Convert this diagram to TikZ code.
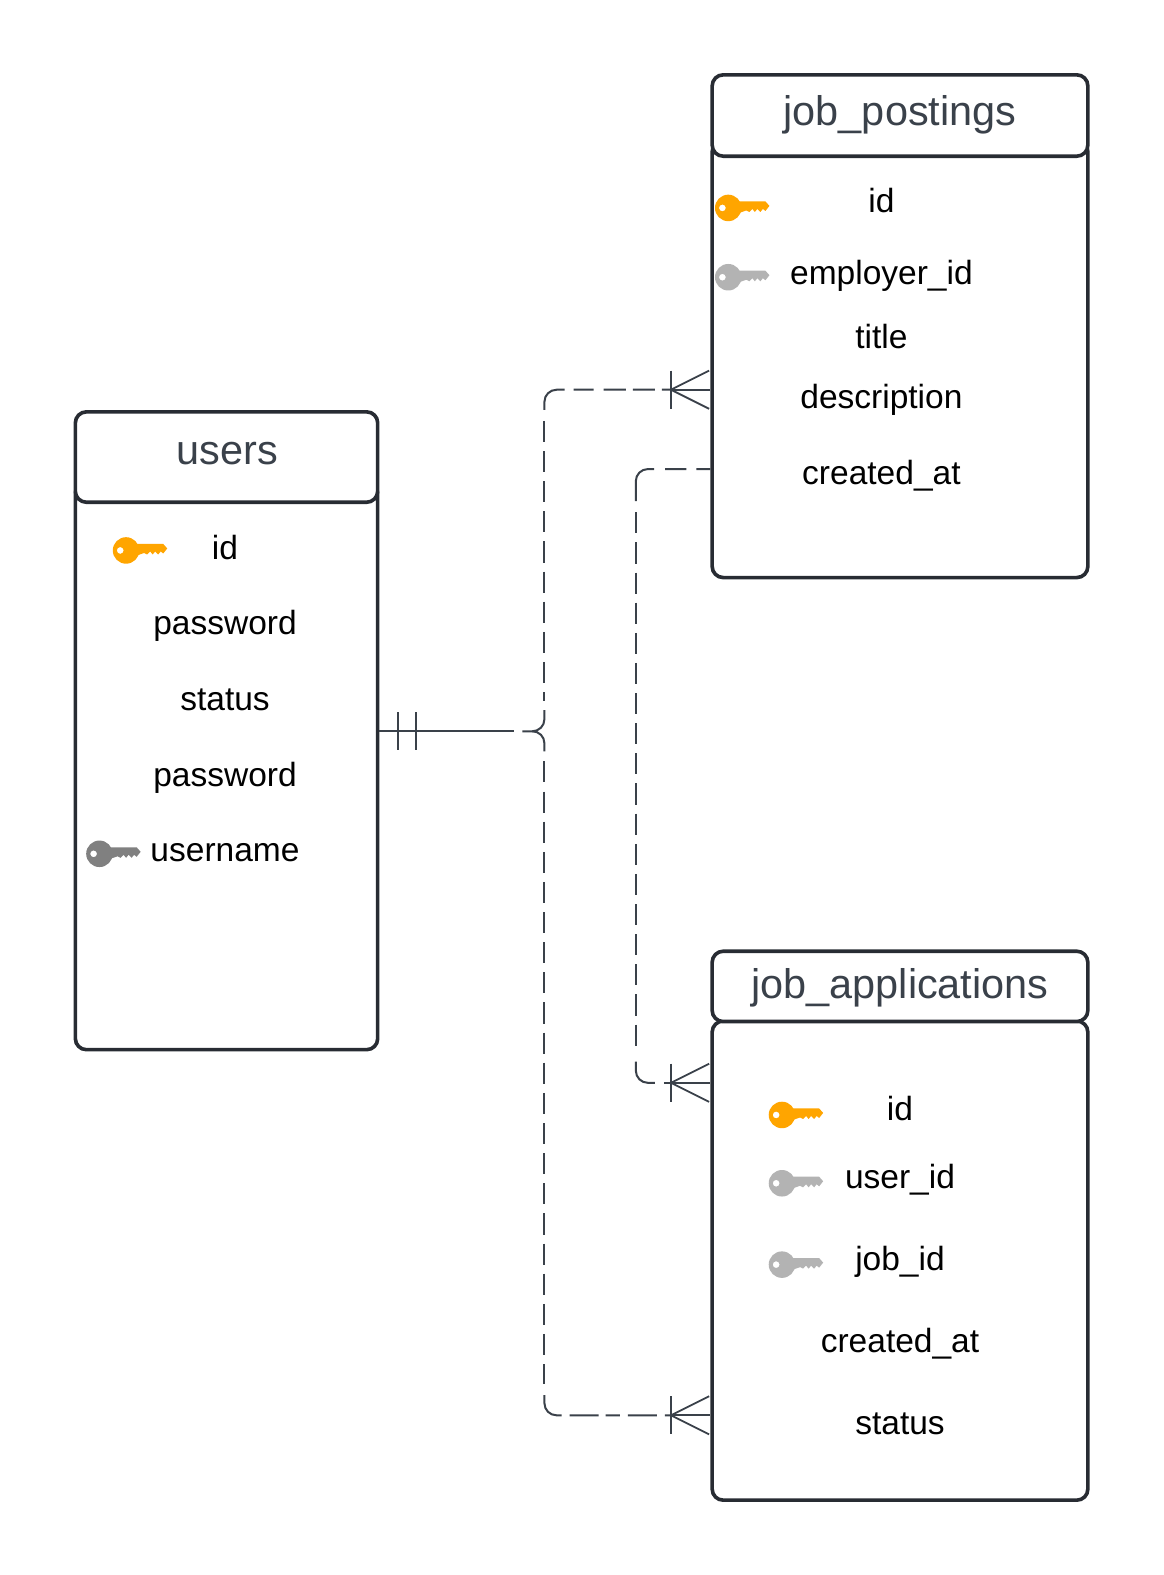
\documentclass[tikz,border=0pt]{standalone}
\usepackage{fontspec}
\setmainfont{Liberation Sans}
\definecolor{boxline}{HTML}{282C33}
\definecolor{conline}{HTML}{3A414A}
\definecolor{titletext}{HTML}{3A414A}
\definecolor{keyorange}{HTML}{FFA500}
\definecolor{keylight}{HTML}{B3B3B3}
\definecolor{keydark}{HTML}{808080}
\begin{document}
\begin{tikzpicture}[x=1bp,y=-1bp]
\tikzset{
  tablebox/.style={draw=boxline, line width=3.6bp, rounded corners=11bp, fill=white, inner sep=0pt, minimum width=#1},
  tabletitle/.style={text=titletext, font=\fontsize{41.4}{41.4}\selectfont, inner sep=0pt},
  champ/.style={text=black, font=\fontsize{33.5}{33.5}\selectfont, inner sep=0pt, anchor=base},
  lien/.style={draw=conline, line width=2bp},
  tirets/.style={lien, dash pattern=on 21bp off 9bp},
  coude/.style={lien, rounded corners=12bp},
  patte/.style={lien, line width=1.8bp},
  cle/.pic={
    \fill[even odd rule, pic actions] (0,0) circle (13.2bp) (-5.8,0) circle (3.4bp);
    \fill[pic actions] (8,-6.5) -- (37,-6.5) -- (41,-2) -- (37,3) -- (34.5,1) -- (32,4) -- (29,1) -- (26.5,4) -- (24,1) -- (21,4) -- (18,2.5) -- (8,6) -- cycle;
  }
}
\useasboundingbox (0,0) rectangle (1158,1568);
% job_postings
\node[tablebox=374bp, minimum height=435bp] (postbody) at (896,357.5) {};
\node[tablebox=374bp, minimum height=81bp] (posthead) at (896,115) {};
\node[tabletitle, anchor=base] (posttitle) at (896,125) {job\_postings};
\node[champ] (postid) at (877.5,212) {id};
\node[champ] (postemp) at (877.5,283) {employer\_id};
\node[champ] (posttit) at (877.5,347) {title};
\node[champ] (postdesc) at (877.5,407) {description};
\node[champ] (postcre) at (877.5,482) {created\_at};
\pic[fill=keyorange] at (725,207) {cle};
\pic[fill=keylight] at (725,276) {cle};
% users
\node[tablebox=301bp, minimum height=565bp] (userbody) at (225.5,762.5) {};
\node[tablebox=301bp, minimum height=90bp] (userhead) at (225.5,455) {};
\node[tabletitle, anchor=base] (usertitle) at (226.5,462) {users};
\node[champ] (userid) at (224,557) {id};
\node[champ] (userpass) at (224,632) {password};
\node[champ] (userstat) at (224,707) {status};
\node[champ] (userpassb) at (224,783) {password};
\node[champ] (username) at (224,858) {username};
\pic[fill=keyorange] at (125.5,548) {cle};
\pic[fill=keydark] at (99,850) {cle};
% job_applications
\node[tablebox=374bp, minimum height=477bp] (applibody) at (896,1255) {};
\node[tablebox=374bp, minimum height=70bp] (applihead) at (896,982) {};
\node[tabletitle, anchor=base] (applititle) at (896,994) {job\_applications};
\node[champ] (appliid) at (896,1116) {id};
\node[champ] (appliuser) at (896,1183) {user\_id};
\node[champ] (applijob) at (896,1265) {job\_id};
\node[champ] (applicre) at (896,1346.5) {created\_at};
\node[champ] (applistat) at (896,1428) {status};
\pic[fill=keyorange] at (778.5,1110) {cle};
\pic[fill=keylight] at (778.5,1178) {cle};
\pic[fill=keylight] at (778.5,1259) {cle};
% liens
\draw[lien] (userbody.east |- 0,728) -- (512,728);
\draw[patte] (396,709) -- (396,747);
\draw[lien] (414,709) -- (414,747);
\draw[lien] (520,728) -- (530,728) to[out=0,in=-90] (542,716) -- (542,707);
\draw[lien] (530,728) to[out=0,in=90] (542,740) -- (542,748);
\draw[coude, dash pattern=on 9bp off 7bp on 22bp off 7bp on 22bp off 10bp on 20bp off 9bp on 50bp] (668,388) -- (542,388) -- (542,408);
\draw[tirets] (542,419) -- (542,697.5);
\draw[tirets] (542,758) -- (542,1378);
\draw[coude, dash pattern=on 6bp off 8bp on 29bp off 8bp on 14bp off 7bp on 29bp off 8bp on 50bp] (668,1409) -- (542,1409) -- (542,1389);
\draw[coude, dash pattern=on 14bp off 10bp on 21bp off 11bp on 60bp] (postbody.west |- 0,467) -- (633,467) -- (633,499);
\draw[tirets] (633,510) -- (633,1048);
\draw[coude] (633,1057) -- (633,1078) -- (652,1078);
\draw[lien] (661,1078) -- (668,1078);
% pattes
\foreach \ya/\nom in {388/postbody,1078/applibody,1409/applibody}{
  \draw[patte] (668,\ya-19) -- (668,\ya+19);
  \draw[lien] (668,\ya) -- (\nom.west |- 0,\ya);
  \draw[patte] (668,\ya) -- (706,\ya-19);
  \draw[patte] (668,\ya) -- (706,\ya+19);
}
\end{tikzpicture}
\end{document}
